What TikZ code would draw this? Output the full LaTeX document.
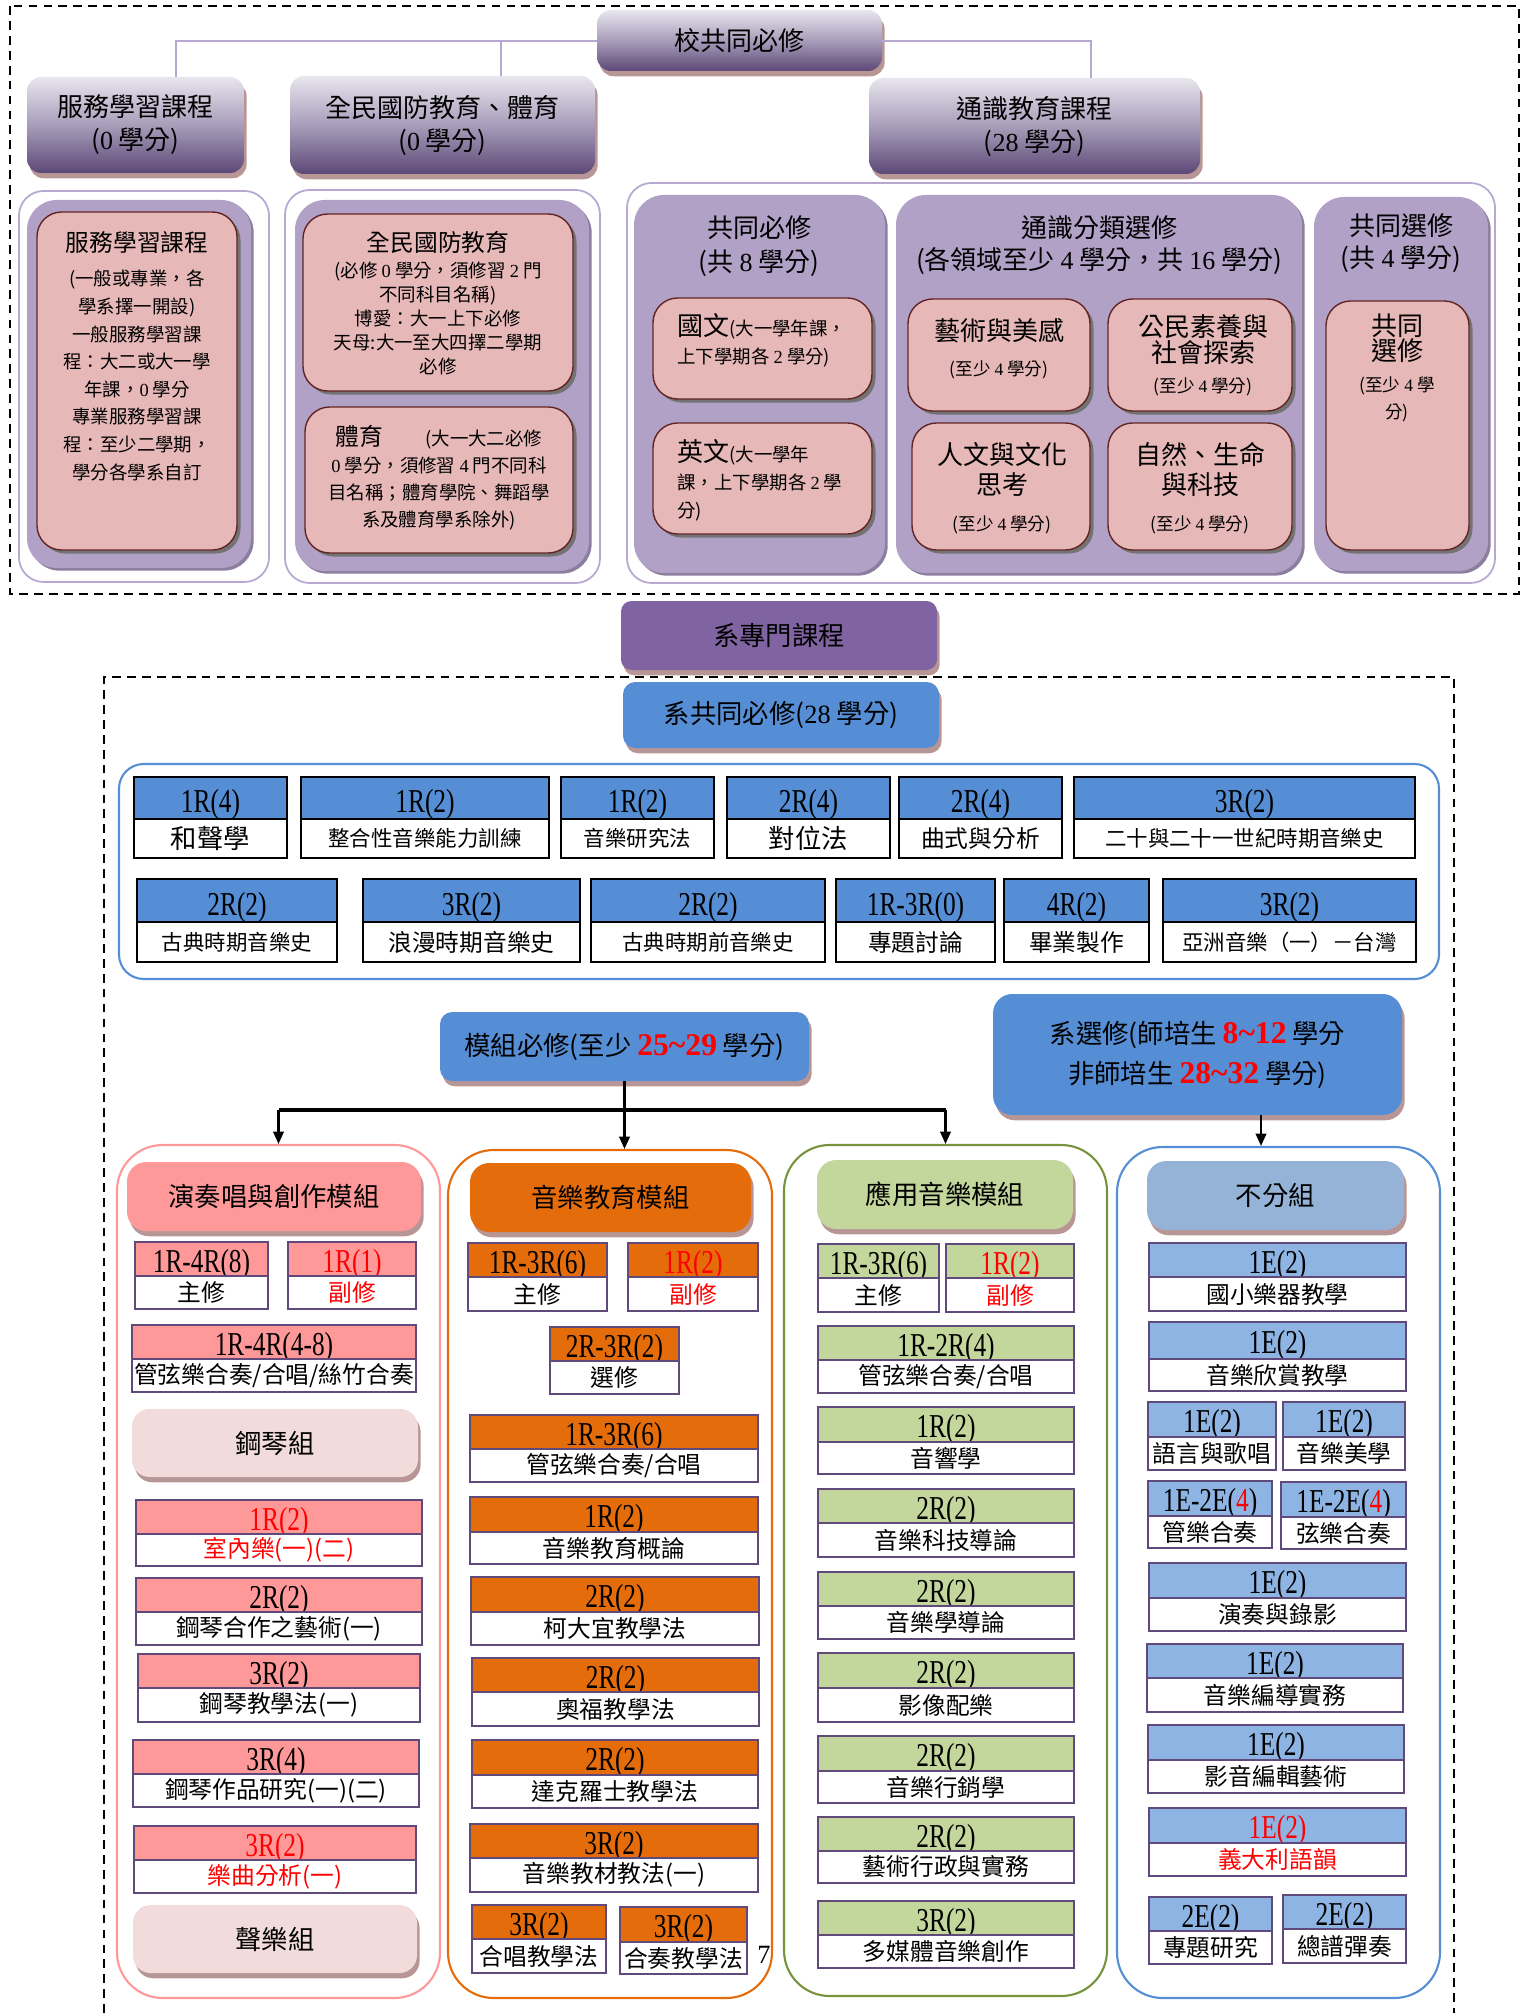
\documentclass[tikz,border=0pt]{standalone}
\usepackage{fontspec}
\setmainfont{Noto Sans CJK TC}
\newfontfamily\codefont[FakeStretch=0.76]{Liberation Serif}
\newfontfamily\numfont{Liberation Serif}
\usetikzlibrary{positioning,arrows.meta,shadows}

\definecolor{hdrTop}{RGB}{232,230,238}
\definecolor{hdrMid}{RGB}{168,157,186}
\definecolor{hdrBot}{RGB}{92,72,118}
\definecolor{grpLine}{RGB}{183,168,210}
\definecolor{grpFill}{RGB}{178,161,199}
\definecolor{grpShd}{RGB}{140,126,158}
\definecolor{pinkFill}{RGB}{230,184,183}
\definecolor{pinkLine}{RGB}{99,37,35}
\definecolor{shdPink}{RGB}{184,150,150}
\definecolor{deptPurple}{RGB}{128,100,162}
\definecolor{deptBlue}{RGB}{85,142,213}
\definecolor{perfRed}{RGB}{255,153,153}
\definecolor{perfLight}{RGB}{242,220,219}
\definecolor{eduOrange}{RGB}{228,108,10}
\definecolor{appGreen}{RGB}{195,214,155}
\definecolor{appLine}{RGB}{119,147,60}
\definecolor{freeBlue}{RGB}{149,179,215}
\definecolor{freeHead}{RGB}{142,180,227}
\definecolor{crsLine}{RGB}{96,74,123}

\newcommand{\rd}[1]{\textcolor{red}{#1}}
\newcommand{\nm}[1]{{\numfont #1}}
\newcommand{\fPk}{\fontsize{13.5}{16}\selectfont}
\newcommand{\fPkB}{\fontsize{14.8}{17}\selectfont}
\newcommand{\fBig}{\fontsize{15}{17}\selectfont}
\newcommand{\fMid}{\fontsize{13.5}{15}\selectfont}
\newcommand{\rbig}{\numfont\bfseries\fontsize{18}{20}\selectfont\color{red}}

% course box: name, x1, y1, x2, y split, y2, header fill, code, title
\newcommand{\crsbox}[9]{%
  \node[crsHd, fill=#7, sized={#2}{#3}{#4}{#5}] (#1h) {#8};
  \node[crsBd, sized={#2}{#5}{#4}{#6}] (#1b) {#9};}
% department required box: name, x1, y1, x2, y split, y2, code, title
\newcommand{\reqbox}[8]{%
  \node[reqHd, sized={#2}{#3}{#4}{#5}] (#1h) {#7};
  \node[reqBd, sized={#2}{#5}{#4}{#6}] (#1b) {#8};}

\begin{document}
\begin{tikzpicture}[x=0.02cm, y=-0.02cm,
  every node/.style={inner sep=0pt, align=center},
  sized/.style n args={4}{minimum width={(#3-#1)*0.02cm}, minimum height={(#4-#2)*0.02cm}, at={({(#1+#3)/2},{(#2+#4)/2})}},
  dashline/.style={dash pattern=on 5pt off 3.5pt, line width=1pt},
  conn/.style={draw=grpLine, line width=1pt},
  arr/.style={-{Triangle[length=7pt, width=6pt]}, line width=1.2pt},
  shd/.style={drop shadow={shadow xshift=1.5pt, shadow yshift=-3pt, opacity=1, fill=shdPink}},
  hdr/.style={rounded corners=8pt, top color=hdrTop, bottom color=hdrBot, middle color=hdrMid, shd, font={\fontsize{14.8}{18.8}\selectfont}},
  grp/.style={draw=grpLine, line width=1pt, rounded corners=14pt},
  grpIn/.style={fill=grpFill, rounded corners=17pt, drop shadow={shadow xshift=1.5pt, shadow yshift=-1.5pt, opacity=1, fill=grpShd}},
  pinkbox/.style={fill=pinkFill, draw=pinkLine, line width=0.8pt, rounded corners=14pt, drop shadow={shadow xshift=2pt, shadow yshift=-2pt, opacity=1, fill=black!55}},
  blk/.style={rounded corners=7pt, shd, font={\fontsize{15}{22.8}\selectfont}},
  colbox/.style={line width=1.2pt, rounded corners=26pt},
  colhd/.style={rounded corners=11pt, shd, font={\fontsize{15}{17}\selectfont}},
  crsHd/.style={draw=crsLine, line width=1pt, text height=15pt, text depth=0pt, font={\codefont\fontsize{19}{20}\selectfont}},
  crsBd/.style={draw=crsLine, line width=1pt, fill=white, font={\fontsize{13.5}{15}\selectfont}},
  reqHd/.style={draw=black, line width=1.3pt, fill=deptBlue, text height=16.5pt, text depth=0pt, font={\codefont\fontsize{19}{20}\selectfont}},
  reqBd/.style={draw=black, line width=1.3pt, fill=white, font={\fontsize{12.2}{14}\selectfont}}]
\useasboundingbox (0,0) rectangle (1525,2013);

% school-wide required courses
\draw[dashline] (10,6) rectangle (1519,594);
\node[hdr, sized={597}{10}{882}{71}] (sch) {校共同必修};
\node[hdr, sized={27}{77}{244}{173}] (svc) {服務學習課程\\(\nm{0} 學分)};
\node[hdr, sized={290}{76}{595}{174}] (civ) {全民國防教育、體育\\(\nm{0} 學分)};
\node[hdr, sized={869}{78}{1200}{174}] (gen) {通識教育課程\\(\nm{28} 學分)};
\coordinate (lnL) at (176,41);
\coordinate (lnM) at (501,41);
\coordinate (lnR) at (1091,41);
\draw[conn] (sch.west |- lnL) -| (lnL |- svc.north);
\draw[conn] (lnM) -- (lnM |- civ.north);
\draw[conn] (sch.east |- lnR) -| (lnR |- gen.north);

% service learning
\node[grp, sized={19}{191}{269}{582}] (svcG) {};
\node[grpIn, sized={27}{200}{251}{568}] (svcIn) {};
\node[pinkbox, sized={37}{212}{237}{550}] (svcBox) {};
\node[anchor=north, font={\fontsize{10.5}{15.7}\selectfont}] (svcTxt) at (137,231)
  {{\fPk 服務學習課程}\\[4pt](一般或專業，各\\學系擇一開設)\\一般服務學習課\\程：大二或大一學\\年課，\nm{0} 學分\\專業服務學習課\\程：至少二學期，\\學分各學系自訂};

% defence education and PE
\node[grp, sized={285}{190}{600}{583}] (civG) {};
\node[grpIn, sized={295}{200}{589}{571}] (civIn) {};
\node[pinkbox, sized={303}{214}{573}{391}] (natBox) {};
\node[pinkbox, sized={305}{407}{573}{553}] (peBox) {};
\node[anchor=north, font={\fontsize{10.5}{13.7}\selectfont}] (natTxt) at (438,231)
  {{\fPk 全民國防教育}\\[1pt](必修 \nm{0} 學分，須修習 \nm{2} 門\\不同科目名稱)\\博愛：大一上下必修\\天母:大一至大四擇二學期\\必修};
\node[anchor=north, font={\fontsize{10.5}{15.4}\selectfont}] (peTxt) at (439,425)
  {{\fPk 體育}\hspace{24pt}(大一大二必修\\\nm{0} 學分，須修習 \nm{4} 門不同科\\目名稱；體育學院、舞蹈學\\系及體育學系除外)};

% general education
\node[grp, sized={627}{183}{1495}{583}] (genG) {};
\node[grpIn, sized={634}{195}{885}{573}] (comIn) {};
\node[grpIn, sized={896}{195}{1302}{573}] (catIn) {};
\node[grpIn, sized={1314}{197}{1488}{571}] (elecIn) {};
\node[font={\fontsize{14.8}{19.4}\selectfont}] (comTitle) at (759,246) {共同必修\\(共 \nm{8} 學分)};
\node[font={\fontsize{14.8}{18.2}\selectfont}] (catTitle) at (1099,245) {通識分類選修\\(各領域至少 \nm{4} 學分，共 \nm{16} 學分)};
\node[font={\fontsize{14.8}{18.2}\selectfont}] (elecTitle) at (1401,243) {共同選修\\(共 \nm{4} 學分)};
\node[pinkbox, sized={653}{298}{872}{399}] (chnBox) {};
\node[pinkbox, sized={653}{423}{872}{534}] (engBox) {};
\node[anchor=north west, align=left, font={\fontsize{10.5}{16}\selectfont}] (chnTxt) at (677,313)
  {{\fPkB 國文}(大一學年課，\\上下學期各 \nm{2} 學分)};
\node[anchor=north west, align=left, font={\fontsize{10.5}{16}\selectfont}] (engTxt) at (677,439)
  {{\fPkB 英文}(大一學年\\課，上下學期各 \nm{2} 學\\分)};
\node[pinkbox, sized={908}{299}{1090}{411}] (artBox) {};
\node[pinkbox, sized={1108}{299}{1292}{411}] (socBox) {};
\node[pinkbox, sized={912}{423}{1090}{550}] (humBox) {};
\node[pinkbox, sized={1108}{423}{1292}{550}] (sciBox) {};
\node[pinkbox, sized={1326}{301}{1469}{550}] (celBox) {};
\node[anchor=north, font={\fontsize{10}{14}\selectfont}] (artTxt) at (999,318)
  {{\fPkB 藝術與美感}\\[6pt](至少 \nm{4} 學分)};
\node[anchor=north, font={\fontsize{10}{14.8}\selectfont}] (socTxt) at (1203,314)
  {{\fPkB 公民素養與}\\{\fPkB 社會探索}\\[2.2pt](至少 \nm{4} 學分)};
\node[anchor=north, font={\fontsize{10}{17}\selectfont}] (humTxt) at (1002,442)
  {{\fPkB 人文與文化}\\{\fPkB 思考}\\[3.5pt](至少 \nm{4} 學分)};
\node[anchor=north, font={\fontsize{10}{17}\selectfont}] (sciTxt) at (1200,442)
  {{\fPkB 自然、生命}\\{\fPkB 與科技}\\[3.5pt](至少 \nm{4} 學分)};
\node[anchor=north, font={\fontsize{10}{15.4}\selectfont}] (celTxt) at (1397,314)
  {{\fPkB 共同}\\[-1.2pt]{\fPkB 選修}\\[2.2pt](至少 \nm{4} 學\\分)};

% department courses
\node[blk, fill=deptPurple, rounded corners=6pt, sized={621}{601}{937}{670}] (dept) {系專門課程};
\draw[dashline] (104,2013) |- (1454,677) -- (1454,2013);
\node[blk, fill=deptBlue, sized={623}{682}{939}{748}] (deptReq) {系共同必修(\nm{28} 學分)};
\node[draw=deptBlue, line width=1.2pt, rounded corners=14pt, sized={119}{764}{1439}{979}] (reqArea) {};
\reqbox{rA}{134}{777}{287}{819}{858}{1R(4)}{\fBig 和聲學}
\reqbox{rB}{301}{777}{549}{819}{858}{1R(2)}{整合性音樂能力訓練}
\reqbox{rC}{561}{777}{714}{819}{858}{1R(2)}{音樂研究法}
\reqbox{rD}{727}{777}{890}{819}{858}{2R(4)}{\fBig 對位法}
\reqbox{rE}{899}{777}{1062}{819}{858}{2R(4)}{\fMid 曲式與分析}
\reqbox{rF}{1074}{777}{1415}{819}{858}{3R(2)}{二十與二十一世紀時期音樂史}
\reqbox{rG}{137}{879}{337}{922}{962}{2R(2)}{古典時期音樂史}
\reqbox{rH}{363}{879}{580}{922}{962}{3R(2)}{\fMid 浪漫時期音樂史}
\reqbox{rI}{591}{879}{825}{922}{962}{2R(2)}{古典時期前音樂史}
\reqbox{rJ}{836}{879}{995}{922}{962}{1R-3R(0)}{\fMid 專題討論}
\reqbox{rK}{1004}{879}{1149}{922}{962}{4R(2)}{\fMid 畢業製作}
\reqbox{rL}{1163}{879}{1416}{922}{962}{3R(2)}{亞洲音樂（一）－台灣}

% modules
\node[blk, fill=deptBlue, sized={440}{1012}{809}{1081}] (mod) {模組必修(至少 {\rbig 25\textasciitilde 29} 學分)};
\node[blk, fill=deptBlue, rounded corners=11pt, sized={993}{994}{1402}{1115}] (sel)
  {系選修(師培生 {\rbig 8\textasciitilde 12} 學分\\非師培生 {\rbig 28\textasciitilde 32} 學分)};
\node[colbox, draw=perfRed, sized={117}{1145}{440}{1998}] (colA) {};
\node[colbox, draw=eduOrange, sized={448}{1150}{772}{1998}] (colB) {};
\node[colbox, draw=appLine, sized={784}{1145}{1107}{1996}] (colC) {};
\node[colbox, draw=deptBlue, sized={1117}{1147}{1440}{1998}] (colD) {};
\coordinate (bar) at (0,1110);
\coordinate (selDrop) at (1261,0);
\draw[line width=1.2pt] (mod.south) -- (mod.south |- bar);
\draw[line width=2.5pt] (colA.north |- bar) -- (colC.north |- bar);
\draw[arr] (colA.north |- bar) -- (colA.north);
\draw[arr] (mod.south |- bar) -- (mod.south |- colB.north);
\draw[arr] (colC.north |- bar) -- (colC.north);
\draw[arr] (selDrop |- sel.south) -- (selDrop |- colD.north);

% performance and composition
\node[colhd, fill=perfRed, sized={127}{1162}{421}{1231}] (hdA) {演奏唱與創作模組};
\crsbox{aMaj}{135}{1242}{268}{1276}{1309}{perfRed}{1R-4R(8)}{主修}
\crsbox{aMin}{288}{1242}{416}{1276}{1309}{perfRed}{\rd{1R(1)}}{\rd{副修}}
\crsbox{aEns}{132}{1325}{416}{1359}{1392}{perfRed}{1R-4R(4-8)}{管弦樂合奏/合唱/絲竹合奏}
\node[colhd, fill=perfLight, rounded corners=10pt, sized={132}{1409}{418}{1477}] (pno) {鋼琴組};
\crsbox{aCh}{136}{1500}{422}{1534}{1566}{perfRed}{\rd{1R(2)}}{\rd{室內樂(一)(二)}}
\crsbox{aCo}{136}{1578}{422}{1612}{1645}{perfRed}{2R(2)}{鋼琴合作之藝術(一)}
\crsbox{aPd}{138}{1654}{420}{1688}{1722}{perfRed}{3R(2)}{鋼琴教學法(一)}
\crsbox{aPr}{133}{1740}{419}{1774}{1807}{perfRed}{3R(4)}{鋼琴作品研究(一)(二)}
\crsbox{aAn}{134}{1826}{416}{1860}{1893}{perfRed}{\rd{3R(2)}}{\rd{樂曲分析(一)}}
\node[colhd, fill=perfLight, rounded corners=10pt, sized={133}{1905}{417}{1973}] (voc) {聲樂組};

% music education
\node[colhd, fill=eduOrange, sized={470}{1163}{751}{1232}] (hdB) {音樂教育模組};
\crsbox{bMaj}{468}{1243}{607}{1277}{1311}{eduOrange}{1R-3R(6)}{主修}
\crsbox{bMin}{628}{1243}{758}{1277}{1311}{eduOrange}{\rd{1R(2)}}{\rd{副修}}
\crsbox{bEl}{550}{1327}{679}{1361}{1394}{eduOrange}{2R-3R(2)}{選修}
\crsbox{bEns}{470}{1415}{758}{1449}{1482}{eduOrange}{1R-3R(6)}{管弦樂合奏/合唱}
\crsbox{bInt}{470}{1497}{758}{1532}{1564}{eduOrange}{1R(2)}{音樂教育概論}
\crsbox{bKo}{471}{1577}{759}{1612}{1645}{eduOrange}{2R(2)}{柯大宜教學法}
\crsbox{bOr}{472}{1658}{759}{1692}{1726}{eduOrange}{2R(2)}{奧福教學法}
\crsbox{bDa}{472}{1740}{758}{1775}{1808}{eduOrange}{2R(2)}{達克羅士教學法}
\crsbox{bMat}{470}{1824}{758}{1858}{1892}{eduOrange}{3R(2)}{音樂教材教法(一)}
\crsbox{bCho}{472}{1905}{606}{1939}{1973}{eduOrange}{3R(2)}{合唱教學法}
\crsbox{bEnsT}{620}{1907}{747}{1942}{1974}{eduOrange}{3R(2)}{合奏教學法}
\node[font={\numfont\fontsize{15}{16}\selectfont}] (pgNo) at (764,1955) {7};

% applied music
\node[colhd, fill=appGreen, sized={817}{1160}{1073}{1229}] (hdC) {應用音樂模組};
\crsbox{cMaj}{818}{1244}{939}{1278}{1312}{appGreen}{1R-3R(6)}{主修}
\crsbox{cMin}{946}{1244}{1074}{1278}{1312}{appGreen}{\rd{1R(2)}}{\rd{副修}}
\crsbox{cEns}{818}{1326}{1074}{1360}{1393}{appGreen}{1R-2R(4)}{管弦樂合奏/合唱}
\crsbox{cAc}{818}{1407}{1074}{1442}{1474}{appGreen}{1R(2)}{音響學}
\crsbox{cTe}{818}{1489}{1074}{1523}{1557}{appGreen}{2R(2)}{音樂科技導論}
\crsbox{cMu}{818}{1572}{1074}{1606}{1639}{appGreen}{2R(2)}{音樂學導論}
\crsbox{cFi}{818}{1653}{1074}{1688}{1722}{appGreen}{2R(2)}{影像配樂}
\crsbox{cMk}{818}{1736}{1074}{1771}{1803}{appGreen}{2R(2)}{音樂行銷學}
\crsbox{cAd}{818}{1817}{1074}{1851}{1883}{appGreen}{2R(2)}{藝術行政與實務}
\crsbox{cMm}{818}{1901}{1074}{1935}{1968}{appGreen}{3R(2)}{多媒體音樂創作}

% no module
\node[colhd, fill=freeBlue, sized={1147}{1161}{1404}{1230}] (hdD) {不分組};
\crsbox{dIn}{1149}{1243}{1406}{1277}{1311}{freeHead}{1E(2)}{國小樂器教學}
\crsbox{dAp}{1149}{1322}{1406}{1359}{1391}{freeHead}{1E(2)}{音樂欣賞教學}
\crsbox{dVo}{1148}{1402}{1276}{1437}{1470}{freeHead}{1E(2)}{語言與歌唱}
\crsbox{dAe}{1283}{1402}{1405}{1437}{1470}{freeHead}{1E(2)}{音樂美學}
\crsbox{dWi}{1148}{1481}{1272}{1516}{1548}{freeHead}{1E-2E(\rd{4})}{管樂合奏}
\crsbox{dSt}{1281}{1482}{1406}{1517}{1549}{freeHead}{1E-2E(\rd{4})}{弦樂合奏}
\crsbox{dRe}{1149}{1563}{1406}{1598}{1631}{freeHead}{1E(2)}{演奏與錄影}
\crsbox{dDi}{1147}{1644}{1403}{1678}{1712}{freeHead}{1E(2)}{音樂編導實務}
\crsbox{dEd}{1148}{1725}{1404}{1760}{1793}{freeHead}{1E(2)}{影音編輯藝術}
\crsbox{dIt}{1149}{1808}{1406}{1843}{1876}{freeHead}{\rd{1E(2)}}{\rd{義大利語韻}}
\crsbox{dPj}{1149}{1897}{1272}{1931}{1964}{freeHead}{2E(2)}{專題研究}
\crsbox{dSc}{1283}{1895}{1406}{1929}{1963}{freeHead}{2E(2)}{總譜彈奏}
\end{tikzpicture}
\end{document}
